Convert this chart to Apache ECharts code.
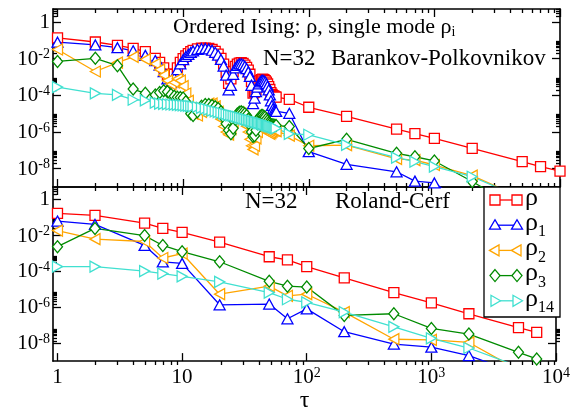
<!DOCTYPE html>
<html><head><meta charset="utf-8">
<script src="https://cdn.jsdelivr.net/npm/echarts@6/dist/echarts.min.js"></script>
<style>html,body{margin:0;padding:0;background:#fff}#c{width:573px;height:414px}</style>
</head><body><div id="c"></div>
<script>
// ---------- DATA (y values are log10 of the plotted quantity) ----------
// Top panel: Barankov-Polkovnikov, tau values
const tauBP = [1,2,3,4,5,6,6.5,7,7.5,8,8.5,9,9.5,10,10.5,11,11.5,12,13,14,15,16,17,18,19,20,21,22,23,24,25,26,27,28,29,30,31,32,33,34,35,36,37,38,39,40,41,42,43,44,45,46,47,48,49,50,51,52,53,54,55,70,100,200,500,700,1000,2000,5000,7000,10000];
const bpRho = [-0.86,-1.09,-1.27,-1.44,-1.62,-1.98,
 -2.2,-2.5,-2.85,-3.0,-2.85,-2.5,-2.2,-2.0,-1.85,-1.72,-1.62,-1.55,
 -1.47,-1.43,-1.42,-1.44,-1.5,-1.6,-1.75,-1.98,-2.3,-2.75,-3.35,-3.1,-2.7,-2.42,-2.3,-2.24,-2.22,-2.26,-2.35,-2.47,-2.62,-2.85,-3.25,-3.88,-3.82,-3.68,-3.5,-3.33,-3.2,-3.14,-3.12,-3.14,-3.2,-3.28,-3.38,-3.52,-3.68,-3.85,-3.95,-4.02,-4.05,-4.08,-4.1,
 -4.22,-4.65,-5.15,-5.84,-6.09,-6.35,-6.89,-7.62,-7.89,-8.13];
const bpRho1 = [-1.1,-1.25,-1.4,-1.57,-1.82,-2.1,
 -2.35,-2.7,-3.1,-3.3,-3.05,-2.6,-2.28,-2.05,-1.88,-1.76,-1.66,-1.58,
 -1.49,-1.45,-1.44,-1.47,-1.54,-1.65,-1.8,-2.04,-2.4,-2.9,-3.7,-3.45,-2.85,-2.5,-2.36,-2.29,-2.28,-2.32,-2.41,-2.54,-2.72,-2.97,-3.45,-4.45,-4.15,-3.8,-3.55,-3.38,-3.26,-3.2,-3.18,-3.2,-3.26,-3.36,-3.5,-3.7,-3.98,-4.3,-4.55,-4.72,-4.82,-4.86,-4.88,
 -4.98,-7.07,-7.76,-8.17,-8.68,-8.78,-10.2,null,null,null];
const bpRho2 = [-1.5,-2.7,-2.22,-1.9,-2.04,-2.28,
 -2.6,-2.9,-3.2,-3.4,-3.3,-3.1,-3.2,-3.5,-3.9,-4.3,-4.7,-5.0,
 -5.1,-4.9,-4.6,-4.45,-4.45,-4.6,-4.9,-5.3,-5.7,-6.0,-6.15,-5.85,-5.45,-5.15,-4.98,-4.95,-5.02,-5.18,-5.4,-5.68,-6.0,-6.4,-6.75,-6.95,-6.75,-6.35,-6.0,-5.75,-5.6,-5.52,-5.5,-5.55,-5.65,-5.8,-5.95,-6.05,-6.1,-6.05,-5.98,-5.92,-5.9,-5.92,-5.95,
 -6.2,-6.75,-6.72,-7.47,-7.53,-7.8,-8.38,-9.6,null,null];
const bpRho3 = [-2.15,-1.98,-2.38,-3.66,-3.89,-3.98,
 -3.85,-3.75,-3.8,-3.95,-4.05,-4.1,-4.12,-4.15,-4.35,-4.7,-5.0,-5.1,
 -4.9,-4.6,-4.5,-4.5,-4.55,-4.62,-4.72,-4.9,-5.2,-5.55,-5.9,-6.1,-5.8,-5.3,-5.02,-4.92,-4.9,-4.94,-5.0,-5.1,-5.3,-5.6,-6.0,-6.25,-6.2,-5.9,-5.55,-5.3,-5.15,-5.1,-5.1,-5.15,-5.2,-5.3,-5.4,-5.5,-5.55,-5.6,-5.6,-5.62,-5.63,-5.65,-5.65,
 -5.7,-6.9,-6.4,-7.16,-7.35,-7.58,-8.7,-10.3,null,null];
const bpRho14 = [-3.55,-3.89,-3.98,-4.24,-4.28,-4.4,
 -4.45,-4.46,-4.48,-4.5,-4.51,-4.52,-4.53,-4.55,-4.56,-4.57,-4.59,-4.6,
 -4.63,-4.68,-4.73,-4.78,-4.83,-4.87,-4.91,-4.95,-4.99,-5.03,-5.06,-5.09,-5.12,-5.15,-5.18,-5.21,-5.24,-5.27,-5.3,-5.32,-5.35,-5.37,-5.4,-5.42,-5.44,-5.46,-5.48,-5.5,-5.52,-5.54,-5.56,-5.58,-5.6,-5.62,-5.64,-5.66,-5.68,-5.7,-5.72,-5.74,-5.76,-5.78,-5.8,
 -6.1,-6.15,-6.7,-7.4,-7.62,-7.89,-8.44,-9.6,null,null];

// Bottom panel: Roland-Cerf
const tauRC = [1,2,5,7,10,20,50,70,100,200,500,1000,2000,5000,7000];
const rcRho   = [-0.76,-0.87,-1.31,-1.6,-1.82,-2.36,-3.18,-3.36,-3.73,-4.36,-5.18,-5.75,-6.36,-7.13,-7.40];
const rcRho1  = [-1.19,-1.38,-2.55,-3.47,-3.55,-5.86,-5.82,-6.64,-6.09,-7.36,-8.05,-8.22,-8.69,-9.7,null];
const rcRho2  = [-1.72,-2.2,-2.33,-3.25,-3.0,-5.27,-4.82,-5.36,-5.27,-6.27,-7.78,-7.82,-7.96,-9.5,null];
const rcRho3  = [-2.62,-1.6,-2.0,-2.55,-2.9,-3.46,-4.55,-4.82,-4.87,-6.45,-6.36,-7.18,-7.49,-8.51,-8.88];
const rcRho14 = [-3.73,-3.73,-3.98,-4.12,-4.27,-4.58,-5.18,-5.55,-5.73,-6.27,-7.09,-7.73,-8.27,-9.3,null];

// Tick labels
const xTickVals = [0,1,2,3,4];
const xTickLabels = ['1','10','10^2','10^3','10^4'];
const yTickVals = [0,-2,-4,-6,-8];
const yTickLabels = ['1','10^-2','10^-4','10^-6','10^-8'];
const seriesNames = ['ρ','ρ1','ρ2','ρ3','ρ14'];

// ---------- CHART ----------
const FONT = '"Liberation Serif", "Times New Roman", serif';
const X0 = 53, XW = 507, T0 = 9, H = 178;
const XMIN = -0.036, XMAX = 4, YMIN = -9, YMAX = 0.71;

const xMinor = [];
for (let n = 0; n < 4; n++) for (let k = 2; k <= 9; k++) xMinor.push(n + Math.log10(k));
const yMinor = [];
for (const e of yTickVals) for (let k = 2; k <= 9; k++) { const v = e + Math.log10(k); if (v < YMAX) yMinor.push(v); }

function fmtLabel(lbl) {
  if (lbl.indexOf('^') < 0) return '{p|' + lbl + '}';
  const parts = lbl.split('^');
  return '{b|' + parts[0] + '}{s|' + parts[1] + '}';
}
const richLbl = {
  p: { fontFamily: FONT, fontSize: 21, lineHeight: 22, color: '#000' },
  b: { fontFamily: FONT, fontSize: 21, lineHeight: 22, padding: [8, 0, 0, 0], verticalAlign: 'bottom', color: '#000' },
  s: { fontFamily: FONT, fontSize: 14, lineHeight: 14, verticalAlign: 'top', color: '#000' }
};
const tickLine = { color: '#000', width: 1.3 };

function xAx(grid, pos, major, labels, name) {
  return {
    type: 'value', gridIndex: grid, position: pos, min: XMIN, max: XMAX,
    axisLine: { show: major, onZero: false, lineStyle: { color: '#000', width: 1.6 } },
    axisTick: { show: true, inside: true, length: major ? 8 : 4, lineStyle: tickLine,
      customValues: major ? xTickVals : xMinor },
    axisLabel: labels ? {
      show: true, margin: 5, customValues: xTickVals,
      formatter: v => fmtLabel(xTickLabels[xTickVals.indexOf(Math.round(v))]),
      rich: richLbl
    } : { show: false },
    splitLine: { show: false },
    name: name || '', nameLocation: 'middle', nameGap: 27,
    nameTextStyle: { fontFamily: FONT, fontSize: 24, color: '#000' }
  };
}
function yAx(grid, pos, major, labels) {
  return {
    type: 'value', gridIndex: grid, position: pos, min: YMIN, max: YMAX,
    axisLine: { show: major, onZero: false, lineStyle: { color: '#000', width: 1.6 } },
    axisTick: { show: true, inside: true, length: major ? 8 : 4, lineStyle: tickLine,
      customValues: major ? yTickVals : yMinor },
    axisLabel: labels ? {
      show: true, margin: 3, customValues: yTickVals,
      formatter: v => fmtLabel(yTickLabels[yTickVals.indexOf(Math.round(v))]),
      rich: richLbl
    } : { show: false },
    splitLine: { show: false }
  };
}

const grids = [
  { left: X0, top: T0, width: XW, height: H },
  { left: X0, top: T0 + H, width: XW, height: H },
  { left: X0, top: T0, width: XW, height: H },
  { left: X0, top: T0 + H, width: XW, height: H }
];
const xAxes = [
  xAx(0, 'bottom', true, false), xAx(0, 'top', true, false),
  xAx(1, 'bottom', true, true, 'τ'), xAx(1, 'top', true, false),
  xAx(2, 'bottom', false, false), xAx(2, 'top', false, false),
  xAx(3, 'bottom', false, false), xAx(3, 'top', false, false)
];
const yAxes = [
  yAx(0, 'left', true, true), yAx(0, 'right', true, false),
  yAx(1, 'left', true, true), yAx(1, 'right', true, false),
  yAx(2, 'left', false, false), yAx(2, 'right', false, false),
  yAx(3, 'left', false, false), yAx(3, 'right', false, false)
];

const styles = [
  { color: '#ff0000', symbol: 'rect', size: 10, rot: 0 },
  { color: '#0000ff', symbol: 'triangle', size: [11, 10], rot: 0 },
  { color: '#ffa500', symbol: 'triangle', size: [11, 10], rot: 90 },
  { color: '#008b00', symbol: 'diamond', size: [10, 12], rot: 0 },
  { color: '#40e0d0', symbol: 'triangle', size: [11, 10], rot: -90 }
];

function pts(tau, vals) {
  const out = [];
  tau.forEach((t, i) => { if (vals[i] !== null) out.push([Math.log10(t), vals[i]]); });
  return out;
}
function mkSeries(idx, tau, vals, axisIdx) {
  const s = styles[idx];
  return {
    type: 'line', name: seriesNames[idx] + (axisIdx ? '_RC' : '_BP'),
    xAxisIndex: axisIdx, yAxisIndex: axisIdx,
    data: pts(tau, vals),
    symbol: s.symbol, symbolSize: s.size, symbolRotate: s.rot, showAllSymbol: true,
    lineStyle: { color: s.color, width: 1.3 },
    itemStyle: { color: '#fff', borderColor: s.color, borderWidth: 1.3 },
    clip: true, silent: true, animation: false
  };
}
const bpSets = [bpRho, bpRho1, bpRho2, bpRho3, bpRho14];
const rcSets = [rcRho, rcRho1, rcRho2, rcRho3, rcRho14];
const series = [];
bpSets.forEach((v, i) => series.push(mkSeries(i, tauBP, v, 0)));
rcSets.forEach((v, i) => series.push(mkSeries(i, tauRC, v, 2)));

// Legend drawn as graphic (line with two markers, like the original)
const legendSubs = ['', '1', '2', '3', '14'];
const graphic = [];
graphic.push({ type: 'rect', z: 100, shape: { x: 484, y: 187, width: 76, height: 130 },
  style: { fill: '#fff', stroke: '#000', lineWidth: 1.3 } });
function markerShape(i, cx, cy, color) {
  const st = { fill: '#fff', stroke: color, lineWidth: 1.3 };
  if (i === 0) return { type: 'rect', z: 101, shape: { x: cx - 5, y: cy - 5, width: 10, height: 10 }, style: st };
  let p;
  if (i === 1) p = [[cx - 5.5, cy + 4], [cx + 5.5, cy + 4], [cx, cy - 5.5]];
  if (i === 2) p = [[cx - 5.5, cy], [cx + 4, cy - 5.5], [cx + 4, cy + 5.5]];
  if (i === 3) p = [[cx, cy - 6], [cx + 5, cy], [cx, cy + 6], [cx - 5, cy]];
  if (i === 4) p = [[cx + 5.5, cy], [cx - 4, cy - 5.5], [cx - 4, cy + 5.5]];
  return { type: 'polygon', z: 101, shape: { points: p }, style: st };
}
for (let i = 0; i < 5; i++) {
  const cy = 200 + i * 25.2, c = styles[i].color;
  graphic.push({ type: 'line', z: 101, shape: { x1: 495, y1: cy, x2: 517, y2: cy }, style: { stroke: c, lineWidth: 1.3 } });
  graphic.push(markerShape(i, 495, cy, c));
  graphic.push(markerShape(i, 517, cy, c));
  graphic.push({ type: 'text', z: 102, x: 525, y: cy - 15, style: {
    text: '{r|ρ}' + (legendSubs[i] ? '{s|' + legendSubs[i] + '}' : ''),
    verticalAlign: 'top', align: 'left',
    rich: {
      r: { fontFamily: FONT, fontSize: 26, lineHeight: 26, verticalAlign: 'top', fill: '#000' },
      s: { fontFamily: FONT, fontSize: 16, lineHeight: 16, padding: [14, 0, 0, 0], verticalAlign: 'top', fill: '#000' }
    } } });
}
// Panel annotations
const annRich = {
  t: { fontFamily: FONT, fontSize: 22, lineHeight: 24, fill: '#000' },
  i: { fontFamily: FONT, fontSize: 14, lineHeight: 14, padding: [14, 0, 0, 0], verticalAlign: 'bottom', fill: '#000' },
  n: { fontFamily: FONT, fontSize: 23, lineHeight: 24, fill: '#000' }
};
graphic.push({ type: 'text', z: 90, x: 173, y: 15.5, style: { text: '{t|Ordered Ising: ρ, single mode ρ}{i|i}', verticalAlign: 'top', rich: annRich } });
graphic.push({ type: 'text', z: 90, x: 263, y: 46.5, style: { text: '{n|N=32}', verticalAlign: 'top', rich: annRich } });
graphic.push({ type: 'text', z: 90, x: 331, y: 46.5, style: { text: '{n|Barankov-Polkovnikov}', verticalAlign: 'top', rich: annRich } });
graphic.push({ type: 'text', z: 90, x: 245, y: 189.5, style: { text: '{n|N=32}', verticalAlign: 'top', rich: annRich } });
graphic.push({ type: 'text', z: 90, x: 335, y: 189.5, style: { text: '{n|Roland-Cerf}', verticalAlign: 'top', rich: annRich } });

const chart = echarts.init(document.getElementById('c'), null, { renderer: 'canvas' });
chart.setOption({
  animation: false,
  backgroundColor: '#fff',
  grid: grids, xAxis: xAxes, yAxis: yAxes,
  series: series,
  graphic: graphic
});
</script>
</body></html>
